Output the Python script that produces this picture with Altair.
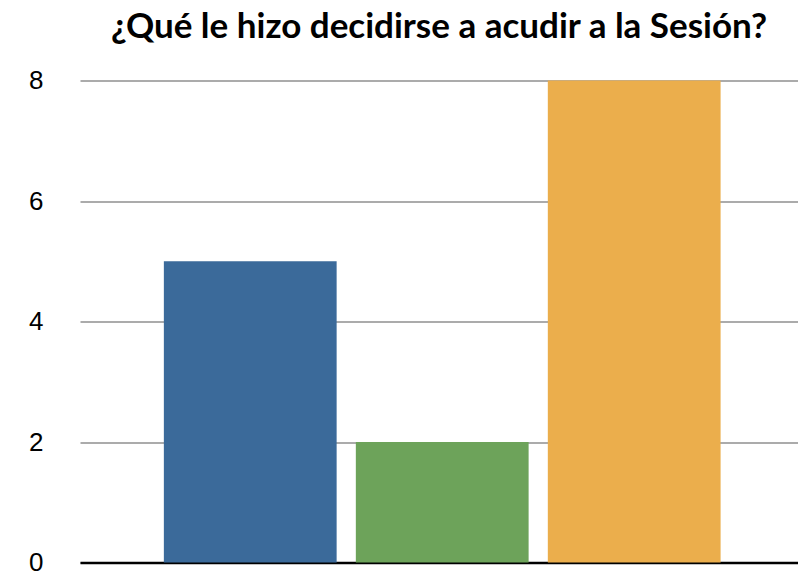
import altair as alt
import pandas as pd

categories = ["Opción 1", "Opción 2", "Opción 3"]
values = [5, 2, 8]
colors = ["#3B6A9A", "#6DA35A", "#EBAE4C"]
y_ticks = [0, 2, 4, 6, 8]

df = pd.DataFrame({"categoria": categories, "valor": values})

chart = alt.Chart(df).mark_bar().encode(
    x=alt.X("categoria:N", sort=categories,
            scale=alt.Scale(paddingInner=0.1, paddingOuter=0.42, align=0.52),
            axis=alt.Axis(title=None, labels=False, ticks=False, domain=True,
                          domainColor="#000000", domainWidth=2.5, grid=False)),
    y=alt.Y("valor:Q", scale=alt.Scale(domain=[0, 8], nice=False),
            axis=alt.Axis(title=None, values=y_ticks, ticks=False, domain=False,
                          grid=True, gridColor="#ABABAB", gridWidth=2,
                          labelFont="Liberation Sans", labelFontSize=26,
                          labelColor="#000000", labelPadding=37)),
    color=alt.Color("categoria:N", sort=categories,
                    scale=alt.Scale(domain=categories, range=colors), legend=None),
).properties(
    width=718,
    height=482,
    title=alt.TitleParams("¿Qué le hizo decidirse a acudir a la Sesión?",
                          font="Lato", fontSize=35, fontWeight="bold",
                          color="#000000", anchor="middle",
                          frame="group", offset=23),
    autosize=alt.AutoSizeParams(type="none"),
    padding={"left": 72, "top": 72.5, "right": 0, "bottom": 15},
).configure_view(stroke=None)

chart.save("out.html", embed_options={"renderer": "svg", "actions": False})
